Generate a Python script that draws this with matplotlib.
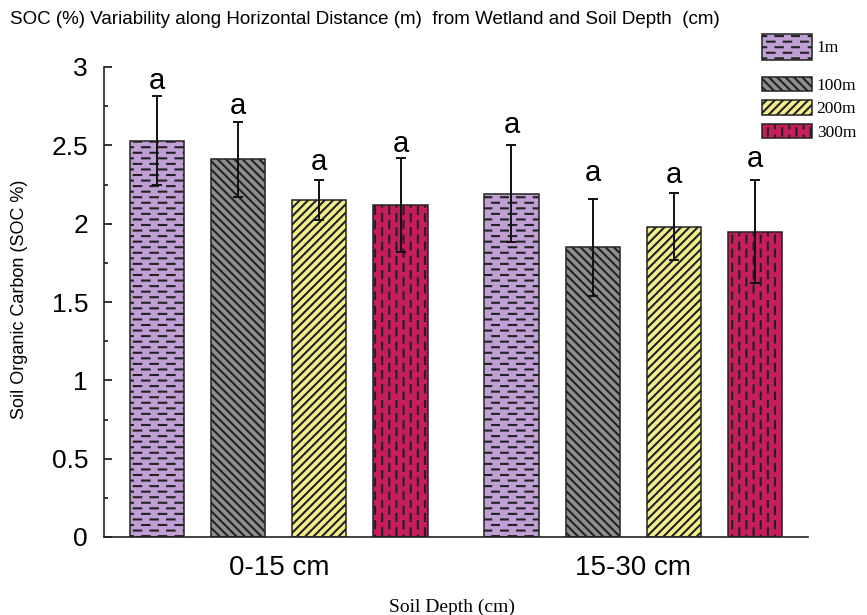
import numpy as np
import matplotlib
matplotlib.use('Agg')
import matplotlib.pyplot as plt
import matplotlib.hatch as mhatch
from matplotlib.path import Path
from matplotlib.ticker import MultipleLocator

depths = ['0-15 cm', '15-30 cm']
distances = ['1m', '100m', '200m', '300m']
soc_mean = {
    '1m':   [2.53, 2.19],
    '100m': [2.41, 1.85],
    '200m': [2.15, 1.98],
    '300m': [2.12, 1.95],
}
soc_err = {
    '1m':   [0.285, 0.31],
    '100m': [0.24, 0.31],
    '200m': [0.127, 0.215],
    '300m': [0.30, 0.33],
}
# significance letters and the height their baseline sits at
letters = ['a', 'a']
letter_y = {
    '1m':   [2.86, 2.58],
    '100m': [2.70, 2.27],
    '200m': [2.34, 2.26],
    '300m': [2.46, 2.36],
}

colors = ['#bf9fd4', '#8e8e8e', '#f3ef8c', '#c61d5c']
hatches = ['-', '\\\\\\\\', '////', '|']


# staggered dash patterns, closer to the original than plain lines
# (one hatch tile is one inch = 100 px here)
class BrickDashes(mhatch.HatchPatternBase):
    def __init__(self, hatch, density):
        self.rows = 18 if '-' in hatch else 0
        self.per_row = 6
        self.num_vertices = self.rows * self.per_row * 2

    def set_vertices_and_codes(self, vertices, codes):
        p = 1.0 / self.per_row
        i = 0
        for r in range(self.rows):
            y = (r + 0.5) / self.rows
            off = 0.025 * p if r % 2 == 0 else 0.525 * p
            for k in range(self.per_row):
                x0 = k * p + off
                vertices[i] = (x0, y)
                vertices[i + 1] = (x0 + 0.45 * p, y)
                codes[i] = Path.MOVETO
                codes[i + 1] = Path.LINETO
                i += 2


class ColumnDashes(mhatch.HatchPatternBase):
    def __init__(self, hatch, density):
        self.cols = 14 if '|' in hatch else 0
        self.per_col = 7
        self.num_vertices = self.cols * self.per_col * 2

    def set_vertices_and_codes(self, vertices, codes):
        p = 1.0 / self.per_col
        i = 0
        for c in range(self.cols):
            x = (c + 0.5) / self.cols
            off = 0.025 * p if c % 2 == 0 else 0.525 * p
            for k in range(self.per_col):
                y0 = k * p + off
                vertices[i] = (x, y0)
                vertices[i + 1] = (x, y0 + 0.5 * p)
                codes[i] = Path.MOVETO
                codes[i + 1] = Path.LINETO
                i += 2


mhatch._hatch_types[0] = BrickDashes
mhatch._hatch_types[1] = ColumnDashes

plt.rcParams['hatch.linewidth'] = 1.5
plt.rcParams['font.family'] = ['Liberation Sans', 'DejaVu Sans']

fig = plt.figure(figsize=(8.67, 6.15), dpi=100)
ax = fig.add_axes([104 / 867, 78 / 615, 704 / 867, 470 / 615])

x = np.arange(len(depths))
step = 0.229
width = 0.153

bars = []
for i, d in enumerate(distances):
    pos = x + (i - 1.5) * step
    b = ax.bar(pos, soc_mean[d], width, color=colors[i], edgecolor='#222222',
               linewidth=1.1, hatch=hatches[i], label=d, zorder=2)
    bars.append(b)
    ax.errorbar(pos, soc_mean[d], yerr=soc_err[d], fmt='none', ecolor='#111111',
                elinewidth=1.4, capsize=3.5, capthick=1.4, zorder=3)
    for j in range(len(depths)):
        ax.text(pos[j], letter_y[d][j], letters[j],
                ha='center', va='baseline', fontsize=21)

ax.set_xlim(-0.493, 1.493)
ax.set_ylim(0, 3)
ax.set_xticks(x)
ax.set_xticklabels(depths, fontsize=20)
ax.tick_params(axis='x', length=0, pad=13)
ax.yaxis.set_minor_locator(MultipleLocator(0.25))
ax.set_yticks([0, 0.5, 1, 1.5, 2, 2.5, 3])
ax.set_yticklabels(['0', '0.5', '1', '1.5', '2', '2.5', '3'], fontsize=19)
ax.tick_params(axis='y', which='major', direction='in', length=5.5, width=1.1, pad=11.5)
ax.tick_params(axis='y', which='minor', direction='in', length=3, width=1.1)
for s in ['top', 'right']:
    ax.spines[s].set_visible(False)
for s in ['left', 'bottom']:
    ax.spines[s].set_linewidth(1.2)
    ax.spines[s].set_color('#222222')

ax.set_ylabel('Soil Organic Carbon (SOC %)', fontsize=13,
              family=['Liberation Sans Narrow', 'Liberation Sans'])
ax.yaxis.set_label_coords(-76 / 704, 0.506)
ax.set_xlabel('Soil Depth (cm)', fontsize=14, family=['Liberation Serif', 'DejaVu Serif'])
ax.xaxis.set_label_coords(348 / 704, -62 / 470)

fig.text(10 / 867, 1 - 20 / 615,
         'SOC (%) Variability along Horizontal Distance (m)  from Wetland and Soil Depth  (cm)',
         fontsize=13.5, ha='left', va='center',
         family=['Liberation Sans Narrow', 'Liberation Sans'])

# the 1m key is drawn taller than the others in the original, so two legends
leg_font = {'family': ['Liberation Serif', 'DejaVu Serif'], 'size': 12.5}
leg1 = ax.legend(handles=bars[:1], loc='upper left',
                 bbox_to_anchor=(762 / 867, 1 - 34 / 615),
                 bbox_transform=fig.transFigure, frameon=False, prop=leg_font,
                 handlelength=2.9, handleheight=1.9, handletextpad=0.25,
                 borderaxespad=0, borderpad=0)
ax.add_artist(leg1)
ax.legend(handles=bars[1:], loc='upper left',
          bbox_to_anchor=(762 / 867, 1 - 77 / 615),
          bbox_transform=fig.transFigure, frameon=False, prop=leg_font,
          handlelength=2.9, handleheight=0.9, labelspacing=0.35, handletextpad=0.25,
          borderaxespad=0, borderpad=0)

fig.savefig('out.png', dpi=100)
